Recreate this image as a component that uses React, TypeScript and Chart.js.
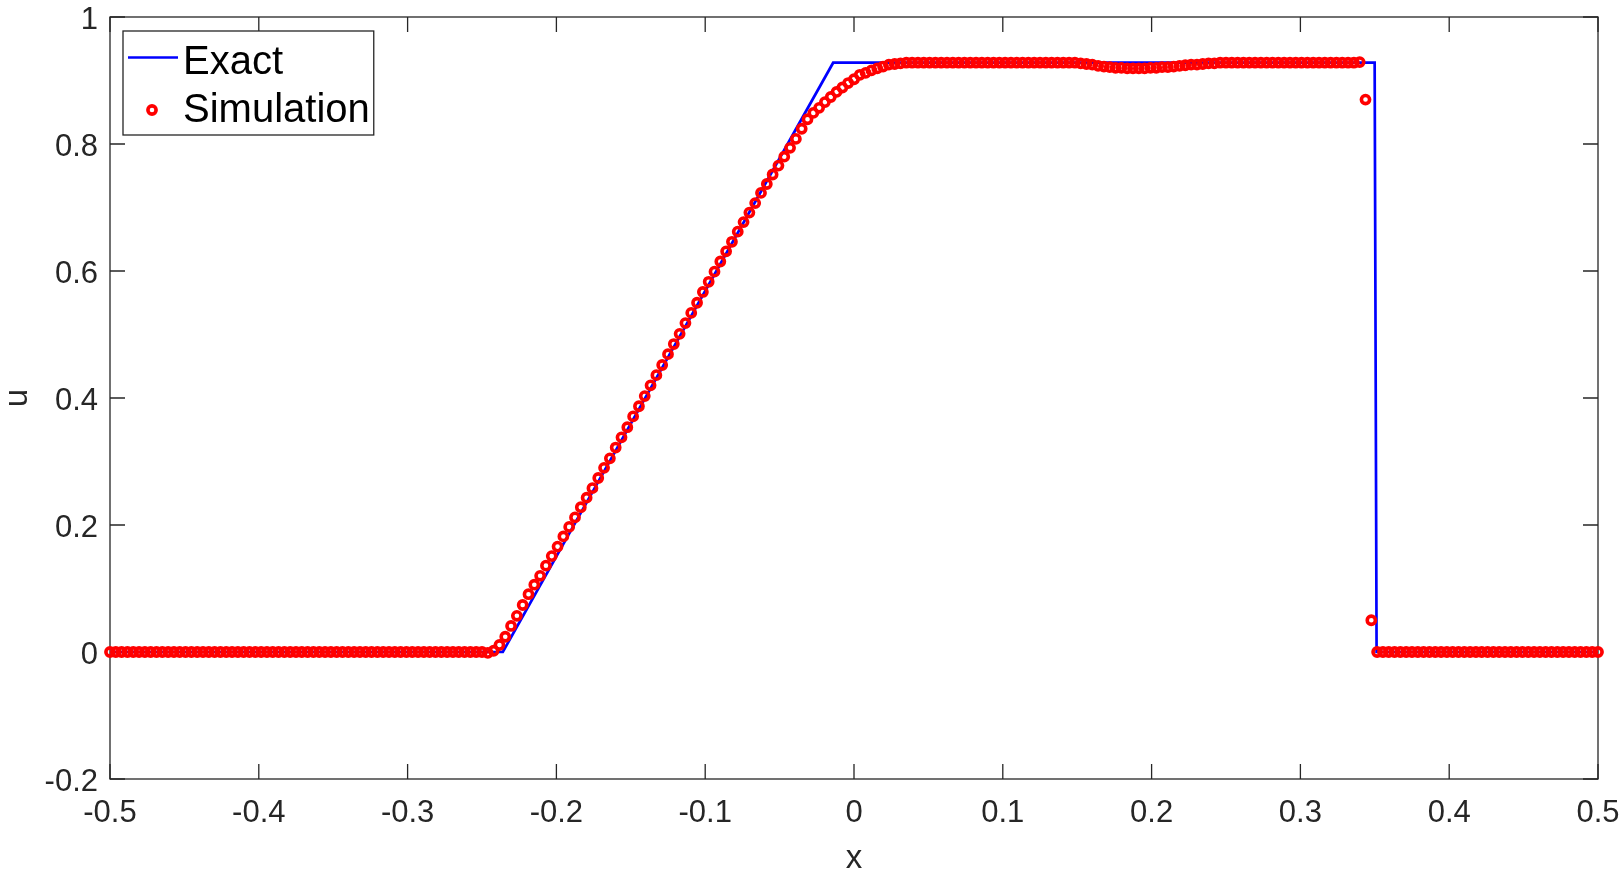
import React, { useEffect, useRef } from 'react';
import { Chart, registerables } from 'chart.js';

Chart.register(...registerables);

const FONT = '"Liberation Sans", Arial, Helvetica, sans-serif';
const AXIS_COLOR = '#262626';

// Axis ticks
const X_TICKS = [-0.5, -0.4, -0.3, -0.2, -0.1, 0, 0.1, 0.2, 0.3, 0.4, 0.5];
const Y_TICKS = [-0.2, 0, 0.2, 0.4, 0.6, 0.8, 1];

// Exact solution (piecewise linear)
const exactX = [-0.5, -0.236, -0.014, 0.3499, 0.3512, 0.5];
const exactU = [0, 0, 0.928, 0.928, 0, 0];

// Simulation: 257 grid nodes, x = -0.5 + i / SIM_N
const SIM_N = 256;
const simU = [
  // i = 0..63
  0, 0, 0, 0, 0, 0, 0, 0,
  0, 0, 0, 0, 0, 0, 0, 0,
  0, 0, 0, 0, 0, 0, 0, 0,
  0, 0, 0, 0, 0, 0, 0, 0,
  0, 0, 0, 0, 0, 0, 0, 0,
  0, 0, 0, 0, 0, 0, 0, 0,
  0, 0, 0, 0, 0, 0, 0, 0,
  0, 0, 0, 0, 0, 0, 0, 0,
  // i = 64..73
  0, -0.0015, 0.002, 0.011, 0.024, 0.041, 0.057, 0.074, 0.091, 0.106,
  // i = 74..83
  0.120, 0.136, 0.151, 0.166, 0.182, 0.197, 0.212, 0.228, 0.243, 0.258,
  // i = 84..93
  0.274, 0.290, 0.305, 0.322, 0.338, 0.354, 0.371, 0.387, 0.403, 0.420,
  // i = 94..103
  0.436, 0.452, 0.469, 0.485, 0.501, 0.518, 0.534, 0.550, 0.567, 0.583,
  // i = 104..113
  0.599, 0.615, 0.631, 0.646, 0.662, 0.677, 0.692, 0.707, 0.723, 0.737,
  // i = 114..123
  0.752, 0.766, 0.780, 0.794, 0.808, 0.824, 0.839, 0.849, 0.857, 0.866,
  // i = 124..133
  0.874, 0.882, 0.889, 0.896, 0.902, 0.909, 0.912, 0.916, 0.919, 0.922,
  // i = 134..137
  0.925, 0.926, 0.927, 0.928,
  // i = 138..165
  0.928, 0.928, 0.928, 0.928, 0.928, 0.928, 0.928, 0.928, 0.928, 0.928,
  0.928, 0.928, 0.928, 0.928, 0.928, 0.928, 0.928, 0.928, 0.928, 0.928,
  0.928, 0.928, 0.928, 0.928, 0.928, 0.928, 0.928, 0.928,
  // i = 166..191
  0.928, 0.927, 0.926, 0.925, 0.923, 0.922, 0.921, 0.920, 0.920, 0.919,
  0.919, 0.919, 0.919, 0.920, 0.920, 0.921, 0.921, 0.922, 0.923, 0.924,
  0.925, 0.925, 0.926, 0.927, 0.927, 0.928,
  // i = 192..214
  0.928, 0.928, 0.928, 0.928, 0.928, 0.928, 0.928, 0.928, 0.928, 0.928,
  0.928, 0.928, 0.928, 0.928, 0.928, 0.928, 0.928, 0.928, 0.928, 0.928,
  0.928, 0.928, 0.928,
  // i = 215..217
  0.929, 0.87, 0.05,
  // i = 218..256
  0, 0, 0, 0, 0, 0, 0, 0, 0, 0,
  0, 0, 0, 0, 0, 0, 0, 0, 0, 0,
  0, 0, 0, 0, 0, 0, 0, 0, 0, 0,
  0, 0, 0, 0, 0, 0, 0, 0, 0,
];
const simX = simU.map((_, i) => -0.5 + i / SIM_N);

const fmt = (v: number) => {
  const r = Math.round(v * 10) / 10;
  return r === 0 ? '0' : String(r);
};

const framePlugin = {
  id: 'matlabFrame',
  beforeDatasetsDraw(chart: any) {
    const { ctx, chartArea: a, scales } = chart;
    const L = 15;
    ctx.save();
    ctx.strokeStyle = AXIS_COLOR;
    ctx.lineWidth = 1.3;
    ctx.strokeRect(a.left, a.top, a.right - a.left, a.bottom - a.top);
    ctx.beginPath();
    for (const t of scales.x.ticks) {
      const px = scales.x.getPixelForValue(t.value);
      ctx.moveTo(px, a.bottom);
      ctx.lineTo(px, a.bottom - L);
      ctx.moveTo(px, a.top);
      ctx.lineTo(px, a.top + L);
    }
    for (const t of scales.y.ticks) {
      const py = scales.y.getPixelForValue(t.value);
      ctx.moveTo(a.left, py);
      ctx.lineTo(a.left + L, py);
      ctx.moveTo(a.right, py);
      ctx.lineTo(a.right - L, py);
    }
    ctx.stroke();
    ctx.restore();
  },
};

const legendPlugin = {
  id: 'matlabLegend',
  afterDraw(chart: any) {
    const { ctx, chartArea: a } = chart;
    const ds = chart.data.datasets;
    const exact = ds[1];
    const sim = ds[0];
    const bx = a.left + 13;
    const by = a.top + 14;
    ctx.save();
    ctx.font = `40px ${FONT}`;
    const tw = Math.max(ctx.measureText(exact.label).width, ctx.measureText(sim.label).width);
    const bw = 60 + tw + 4;
    const bh = 104;
    ctx.fillStyle = '#ffffff';
    ctx.fillRect(bx, by, bw, bh);
    ctx.strokeStyle = AXIS_COLOR;
    ctx.lineWidth = 1.3;
    ctx.strokeRect(bx, by, bw, bh);
    // Exact entry
    ctx.strokeStyle = exact.borderColor;
    ctx.lineWidth = exact.borderWidth;
    ctx.beginPath();
    ctx.moveTo(bx + 5, by + 26.5);
    ctx.lineTo(bx + 55, by + 26.5);
    ctx.stroke();
    ctx.fillStyle = '#000000';
    ctx.textBaseline = 'alphabetic';
    ctx.textAlign = 'left';
    ctx.fillText(exact.label, bx + 60, by + 43);
    // Simulation entry
    ctx.strokeStyle = sim.pointBorderColor;
    ctx.lineWidth = sim.pointBorderWidth;
    ctx.beginPath();
    ctx.arc(bx + 29, by + 79, sim.pointRadius, 0, Math.PI * 2);
    ctx.stroke();
    ctx.fillText(sim.label, bx + 60, by + 91);
    ctx.restore();
  },
};

export default function App() {
  const ref = useRef<HTMLCanvasElement>(null);

  useEffect(() => {
    const chart = new Chart(ref.current as HTMLCanvasElement, {
      type: 'scatter',
      data: {
        datasets: [
          {
            label: 'Simulation',
            data: simX.map((x, i) => ({ x, y: simU[i] })),
            showLine: false,
            pointStyle: 'circle',
            pointRadius: 4.1,
            pointBorderWidth: 3.6,
            pointBorderColor: '#ff0000',
            pointBackgroundColor: 'rgba(0,0,0,0)',
            clip: false,
            order: 1,
          } as any,
          {
            label: 'Exact',
            data: exactX.map((x, i) => ({ x, y: exactU[i] })),
            showLine: true,
            borderColor: '#0000ff',
            borderWidth: 2.7,
            pointRadius: 0,
            fill: false,
            order: 2,
          } as any,
        ],
      },
      options: {
        animation: false,
        responsive: false,
        devicePixelRatio: 1,
        events: [],
        layout: { padding: { top: 17, right: 23, left: 0, bottom: 0 } },
        plugins: { legend: { display: false }, tooltip: { enabled: false } },
        scales: {
          x: {
            type: 'linear',
            min: -0.5,
            max: 0.5,
            afterBuildTicks: (s: any) => {
              s.ticks = X_TICKS.map((v) => ({ value: v }));
            },
            afterFit: (s: any) => {
              s.height = 95;
              s.paddingLeft = 0;
              s.paddingRight = 0;
              s.paddingTop = 0;
              s.paddingBottom = 0;
            },
            ticks: {
              autoSkip: false,
              maxRotation: 0,
              minRotation: 0,
              padding: 19,
              color: AXIS_COLOR,
              font: { family: FONT, size: 31, lineHeight: 1 },
              callback: (v: any) => fmt(Number(v)),
            },
            grid: { display: false, drawTicks: false },
            border: { display: false },
            title: {
              display: true,
              text: 'x',
              color: AXIS_COLOR,
              font: { family: FONT, size: 33, lineHeight: 1 },
              padding: { top: 0, bottom: -1 },
            },
          } as any,
          y: {
            type: 'linear',
            min: -0.2,
            max: 1,
            afterBuildTicks: (s: any) => {
              s.ticks = Y_TICKS.map((v) => ({ value: v }));
            },
            afterFit: (s: any) => {
              s.width = 110;
              s.paddingLeft = 0;
              s.paddingRight = 0;
              s.paddingTop = 0;
              s.paddingBottom = 0;
            },
            ticks: {
              autoSkip: false,
              padding: 12,
              labelOffset: 3,
              color: AXIS_COLOR,
              font: { family: FONT, size: 31, lineHeight: 1 },
              callback: (v: any) => fmt(Number(v)),
            },
            grid: { display: false, drawTicks: false },
            border: { display: false },
            title: {
              display: true,
              text: 'u',
              color: AXIS_COLOR,
              font: { family: FONT, size: 33, lineHeight: 1 },
              padding: { top: 1.5, bottom: 0 },
            },
          } as any,
        },
      },
      plugins: [framePlugin, legendPlugin],
    });
    return () => chart.destroy();
  }, []);

  return (
    <div style={{ position: 'absolute', left: 0, top: 0, width: 1621, height: 874, background: '#ffffff' }}>
      <canvas ref={ref} width={1621} height={874} style={{ display: 'block', width: 1621, height: 874 }} />
    </div>
  );
}
